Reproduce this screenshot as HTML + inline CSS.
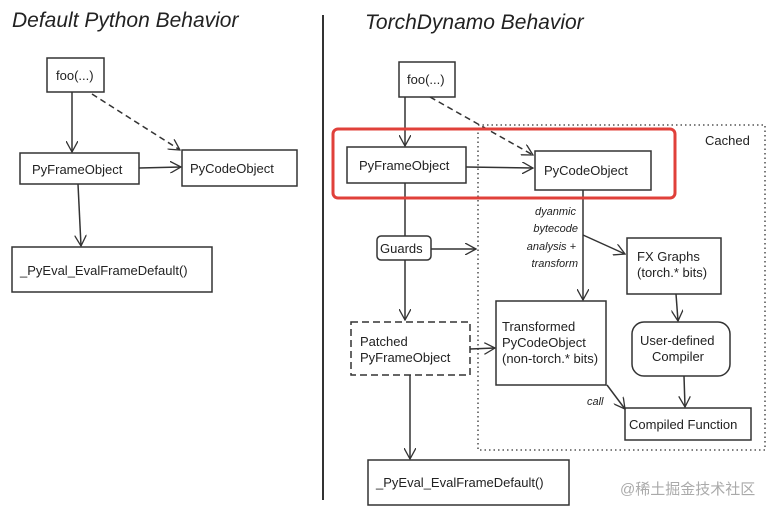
<!DOCTYPE html>
<html><head><meta charset="utf-8"><style>
html,body{margin:0;padding:0;background:#fff;}
svg{display:block;}
text{font-family:"Liberation Sans",sans-serif;fill:#222;}
.h{font-family:"Liberation Sans",sans-serif;font-size:21px;font-style:italic;}
.s{font-family:"Liberation Sans",sans-serif;font-size:11px;font-style:italic;}
</style></head><body>
<svg width="782" height="512" viewBox="0 0 782 512" xmlns="http://www.w3.org/2000/svg">
<defs>
<marker id="a" viewBox="0 0 12 12" refX="11" refY="6" markerWidth="12" markerHeight="12" markerUnits="userSpaceOnUse" orient="auto"><path d="M0,0 L11,6 L0,12" fill="none" stroke="#333" stroke-width="1.3"/></marker>
</defs>
<g fill="none" stroke="#333" stroke-width="1.5">
<line x1="323" y1="15" x2="323" y2="500" stroke-width="2"/>
<rect x="47" y="58" width="57" height="34"/>
<rect x="20" y="153" width="119" height="31"/>
<rect x="182" y="150" width="115" height="36"/>
<rect x="12" y="247" width="200" height="45"/>
<line x1="72" y1="92" x2="72" y2="152" marker-end="url(#a)"/>
<line x1="92" y1="94" x2="180" y2="150" stroke-dasharray="6,4" marker-end="url(#a)"/>
<line x1="139" y1="168" x2="181" y2="167" marker-end="url(#a)"/>
<line x1="78" y1="184" x2="81" y2="246" marker-end="url(#a)"/>
<rect x="399" y="62" width="56" height="35"/>
<rect x="347" y="147" width="119" height="36"/>
<rect x="535" y="151" width="116" height="39"/>
<rect x="478" y="125" width="287" height="325" stroke-dasharray="1.5,3" stroke-width="1.3"/>
<rect x="377" y="236" width="54" height="24" rx="4"/>
<rect x="351" y="322" width="119" height="53" stroke-dasharray="7,4"/>
<rect x="496" y="301" width="110" height="84"/>
<rect x="627" y="238" width="94" height="56"/>
<rect x="632" y="322" width="98" height="54" rx="12"/>
<rect x="625" y="408" width="126" height="32"/>
<rect x="368" y="460" width="201" height="45"/>
<line x1="405" y1="97" x2="405" y2="146" marker-end="url(#a)"/>
<line x1="430" y1="97" x2="533" y2="155" stroke-dasharray="6,4" marker-end="url(#a)"/>
<line x1="466" y1="167" x2="533" y2="168" marker-end="url(#a)"/>
<line x1="405" y1="183" x2="405" y2="236"/>
<line x1="431" y1="249" x2="476" y2="249" marker-end="url(#a)"/>
<line x1="405" y1="260" x2="405" y2="320" marker-end="url(#a)"/>
<line x1="410" y1="375" x2="410" y2="459" marker-end="url(#a)"/>
<line x1="470" y1="349" x2="495" y2="348" marker-end="url(#a)"/>
<line x1="583" y1="190" x2="583" y2="300" marker-end="url(#a)"/>
<line x1="583" y1="235" x2="625" y2="254" marker-end="url(#a)"/>
<line x1="676" y1="294" x2="678" y2="321" marker-end="url(#a)"/>
<line x1="684" y1="376" x2="685" y2="407" marker-end="url(#a)"/>
<line x1="607" y1="385" x2="625" y2="409" marker-end="url(#a)"/>
</g>
<rect x="333" y="129" width="342" height="69" rx="5" fill="none" stroke="#e0403a" stroke-width="3"/>
<text class="h" x="12" y="27">Default Python Behavior</text>
<text class="h" x="365" y="29">TorchDynamo Behavior</text>
<g font-size="13">
<text x="56" y="80">foo(...)</text>
<text x="32" y="174">PyFrameObject</text>
<text x="190" y="173">PyCodeObject</text>
<text x="20" y="275">_PyEval_EvalFrameDefault()</text>
<text x="407" y="84">foo(...)</text>
<text x="359" y="170">PyFrameObject</text>
<text x="544" y="175">PyCodeObject</text>
<text x="705" y="145">Cached</text>
<text x="380" y="253">Guards</text>
<text x="360" y="346">Patched</text>
<text x="360" y="362">PyFrameObject</text>
<text x="502" y="331">Transformed</text>
<text x="502" y="347">PyCodeObject</text>
<text x="502" y="363">(non-torch.* bits)</text>
<text x="637" y="261">FX Graphs</text>
<text x="637" y="277">(torch.* bits)</text>
<text x="640" y="345">User-defined</text>
<text x="652" y="361">Compiler</text>
<text x="629" y="429">Compiled Function</text>
<text x="376" y="487">_PyEval_EvalFrameDefault()</text>
</g>
<g class="s">
<text x="576" y="215" text-anchor="end">dyanmic</text>
<text x="578" y="232" text-anchor="end">bytecode</text>
<text x="576" y="250" text-anchor="end">analysis +</text>
<text x="578" y="267" text-anchor="end">transform</text>
<text x="587" y="405">call</text>
</g>
<text x="620" y="494" font-size="15" style="fill:#aaa;font-family:'Liberation Sans','Noto Sans CJK SC',sans-serif">@稀土掘金技术社区</text>
</svg>
</body></html>
